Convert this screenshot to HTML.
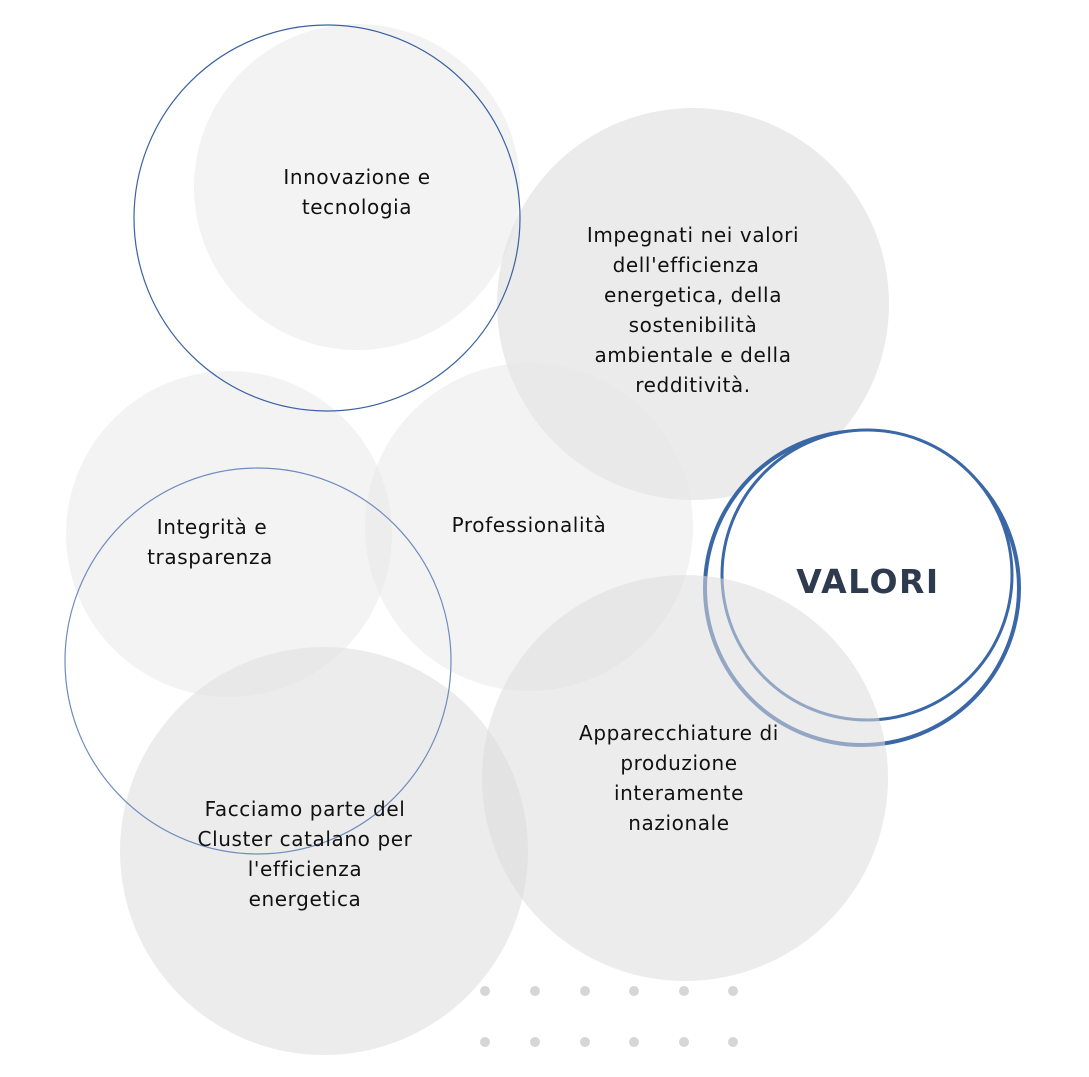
<!DOCTYPE html>
<html><head><meta charset="utf-8"><style>
html,body{margin:0;padding:0;background:#fff}
svg{display:block}
text{font-family:"DejaVu Sans","Liberation Sans",sans-serif;font-size:20px;fill:#111;text-anchor:middle;letter-spacing:0.6px}
</style></head><body>
<svg width="1089" height="1077" viewBox="0 0 1089 1077">
<rect width="1089" height="1077" fill="#fff"/>
<circle cx="357" cy="187" r="163" fill="#f3f3f3"/>
<circle cx="693" cy="304" r="196" fill="#e2e2e2" opacity="0.7"/>
<circle cx="229" cy="534" r="163" fill="#e8e8e8" opacity="0.5"/>
<circle cx="529" cy="527" r="164" fill="#e8e8e8" opacity="0.5"/>
<circle cx="324" cy="851" r="204" fill="#e2e2e2" opacity="0.65"/>
<circle cx="327" cy="218" r="193" fill="none" stroke="#3a62a0" stroke-width="1.2"/>
<circle cx="258" cy="661" r="193" fill="none" stroke="#6f8cbd" stroke-width="1.2"/>
<circle cx="862" cy="588" r="157" fill="#fff" stroke="#3a67a6" stroke-width="4"/>
<circle cx="867" cy="575" r="145" fill="#fff" stroke="#3a67a6" stroke-width="3"/>
<circle cx="685" cy="778" r="203" fill="#dcdcdc" opacity="0.55"/>
<g fill="#d6d6d6">
<circle cx="485" cy="991" r="5"/><circle cx="535" cy="991" r="5"/><circle cx="585" cy="991" r="5"/><circle cx="634" cy="991" r="5"/><circle cx="684" cy="991" r="5"/><circle cx="733" cy="991" r="5"/>
<circle cx="485" cy="1042" r="5"/><circle cx="535" cy="1042" r="5"/><circle cx="585" cy="1042" r="5"/><circle cx="634" cy="1042" r="5"/><circle cx="684" cy="1042" r="5"/><circle cx="733" cy="1042" r="5"/>
</g>
<text x="357" y="184">Innovazione e</text>
<text x="357" y="214">tecnologia</text>
<text x="693" y="242">Impegnati nei valori</text>
<text x="686" y="272">dell'efficienza</text>
<text x="693" y="302">energetica, della</text>
<text x="693" y="332">sostenibilità</text>
<text x="693" y="362">ambientale e della</text>
<text x="693" y="392">redditività.</text>
<text x="212" y="534">Integrità e</text>
<text x="210" y="564">trasparenza</text>
<text x="529" y="532">Professionalità</text>
<text x="868" y="593" style="font-size:33px;font-weight:bold;fill:#2e3a4e;letter-spacing:1.5px">VALORI</text>
<text x="679" y="740">Apparecchiature di</text>
<text x="679" y="770">produzione</text>
<text x="679" y="800">interamente</text>
<text x="679" y="830">nazionale</text>
<text x="305" y="816">Facciamo parte del</text>
<text x="305" y="846">Cluster catalano per</text>
<text x="305" y="876">l'efficienza</text>
<text x="305" y="906">energetica</text>
</svg>
</body></html>
